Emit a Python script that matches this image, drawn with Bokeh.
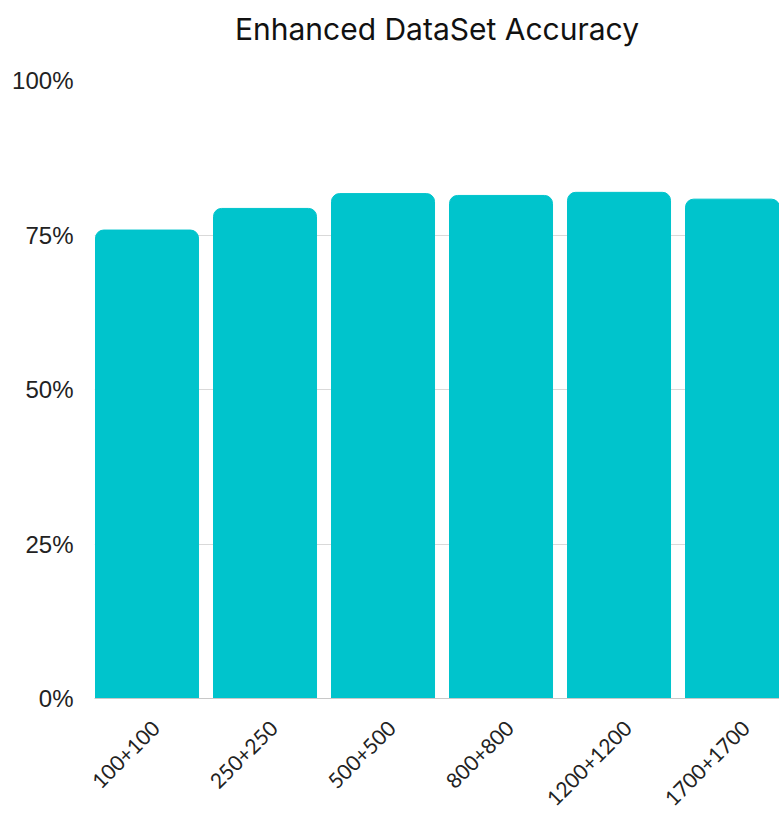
from math import pi

from bokeh.embed import file_html
from bokeh.models import CustomJSTickFormatter, FixedTicker, NumeralTickFormatter, Range1d, Title
from bokeh.plotting import figure
from bokeh.resources import INLINE

# Accuracy per training-set size (train+test pairs)
categories = ["100+100", "250+250", "500+500", "800+800", "1200+1200", "1700+1700"]
accuracy = [0.758, 0.793, 0.817, 0.814, 0.819, 0.808]
y_ticks = [0, 0.25, 0.5, 0.75, 1.0]
chart_title = "Enhanced DataSet Accuracy"

xs = list(range(len(categories)))
# category labels sit slightly right of each bar centre
label_shift = 0.076
label_ticks = [x + label_shift for x in xs]

p = figure(
    width=779,
    height=818,
    output_backend="svg",
    toolbar_location=None,
    x_range=Range1d(-0.445, 5.36),
    y_range=Range1d(0, 1.0),
    min_border_left=94,
    min_border_right=0,
    min_border_top=80,
    min_border_bottom=120,
)
p.outline_line_color = None
p.background_fill_color = "white"
p.border_fill_color = "white"

# blank panel between the heading and the plot area keeps the heading high
p.add_layout(Title(text=" ", text_font_size="2px", standoff=28), "above")
p.add_layout(
    Title(
        text=chart_title,
        align="center",
        vertical_align="top",
        text_font="Inter",
        text_font_size="30px",
        text_font_style="normal",
        text_color="#111111",
        standoff=0,
    ),
    "above",
)

p.vbar(
    x=xs,
    top=accuracy,
    width=0.873,
    color="#00C4CC",
    border_radius=(8, 8, 0, 0),
)

# grid
p.xgrid.grid_line_color = None
p.ygrid.ticker = FixedTicker(ticks=y_ticks)
p.ygrid.grid_line_color = "#d9d9d9"
p.ygrid.grid_line_width = 1

# y axis: percentage labels only
p.yaxis.ticker = FixedTicker(ticks=y_ticks)
p.yaxis.formatter = NumeralTickFormatter(format="0%")
p.yaxis.axis_line_color = None
p.yaxis.major_tick_line_color = None
p.yaxis.minor_tick_line_color = None
p.yaxis.major_tick_out = 0
p.yaxis.major_label_standoff = 21
p.yaxis.major_label_text_font = "Liberation Sans"
p.yaxis.major_label_text_font_size = "24px"
p.yaxis.major_label_text_color = "#222222"

# x axis: rotated category labels
p.xaxis.ticker = FixedTicker(ticks=label_ticks)
p.xaxis.formatter = CustomJSTickFormatter(
    args=dict(labels=categories),
    code="return labels[Math.round(tick)]",
)
p.xaxis.major_label_orientation = pi / 4
p.xaxis.axis_line_color = "#c8c8c8"
p.xaxis.major_tick_line_color = None
p.xaxis.minor_tick_line_color = None
p.xaxis.major_tick_out = 0
p.xaxis.major_label_standoff = 26
p.xaxis.major_label_text_font = "Lato"
p.xaxis.major_label_text_font_size = "21px"
p.xaxis.major_label_text_color = "#222222"

open("out.html", "w").write(file_html(p, INLINE))
